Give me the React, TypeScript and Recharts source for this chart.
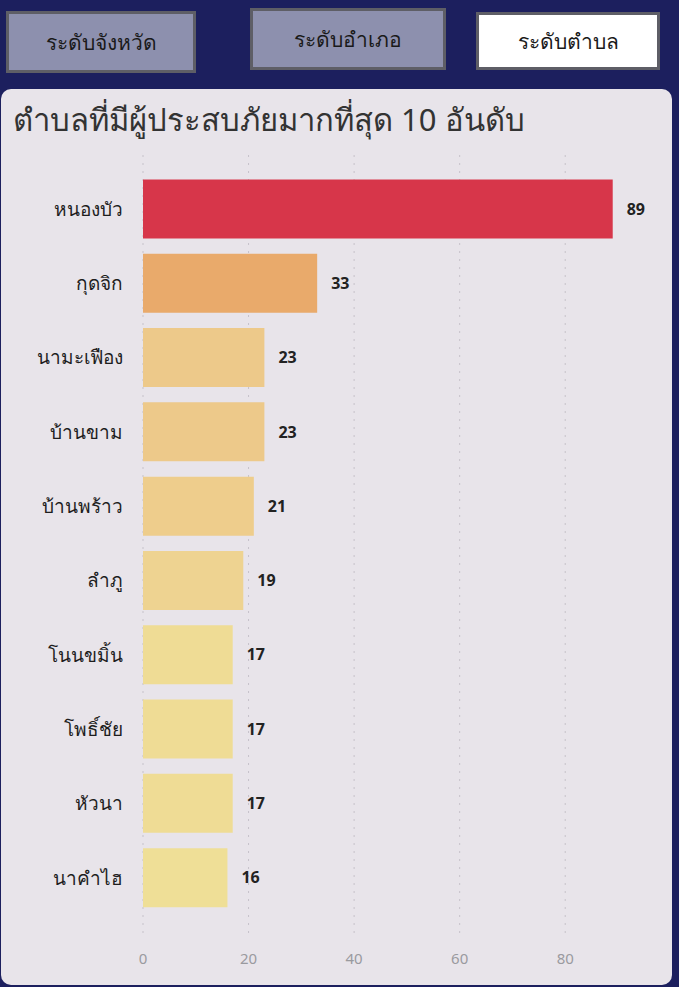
import { Bar, BarChart, CartesianGrid, Cell, LabelList, XAxis, YAxis } from "recharts"

const PAGE_BG = "#1c1f5e"
const CARD_BG = "#e8e4ea"
const GRID_COLOR = "#c6c2ca"
const FONT = "'Noto Sans', Tahoma, sans-serif"

const subdistricts = ["หนองบัว", "กุดจิก", "นามะเฟือง", "บ้านขาม", "บ้านพร้าว", "ลำภู", "โนนขมิ้น", "โพธิ์ชัย", "หัวนา", "นาคำไฮ"]
const affected = [89, 33, 23, 23, 21, 19, 17, 17, 17, 16]
const xTicks = [0, 20, 40, 60, 80]
const levelButtons = ["ระดับจังหวัด", "ระดับอำเภอ", "ระดับตำบล"]

// colour scale from high (red) to low (pale yellow)
const BAR_COLORS = ["#d7364a", "#e9aa6b", "#edc98a", "#edc98a", "#eecd8c", "#eed391", "#efdc95", "#efdc95", "#efdc95", "#efdf97"]

const data = subdistricts.map((name, i) => ({ name, value: affected[i] }))

const buttonBoxes = [
	{ left: 6, top: 11, width: 190, height: 62, active: false },
	{ left: 250, top: 8, width: 196, height: 62, active: false },
	{ left: 476, top: 12, width: 184, height: 58, active: true },
]

export default function App() {
	return (
		<div
			style={{
				position: "fixed",
				left: 0,
				top: 0,
				width: 679,
				height: 987,
				background: PAGE_BG,
				fontFamily: FONT,
				overflow: "hidden",
			}}
		>
			{levelButtons.map((label, i) => {
				const b = buttonBoxes[i]
				return (
					<div
						key={label}
						style={{
							position: "absolute",
							left: b.left,
							top: b.top,
							width: b.width,
							height: b.height,
							boxSizing: "border-box",
							border: "3px solid #5e5e66",
							background: b.active ? "#ffffff" : "#8d90ae",
							color: "#1a1a1a",
							fontSize: 21,
							display: "flex",
							alignItems: "center",
							justifyContent: "center",
						}}
					>
						{label}
					</div>
				)
			})}
			<div
				style={{
					position: "absolute",
					left: 1,
					top: 89,
					width: 671,
					height: 896,
					background: CARD_BG,
					borderRadius: 10,
				}}
			/>
			<div
				style={{
					position: "absolute",
					left: 13,
					top: 95,
					fontSize: 31,
					color: "#333333",
					whiteSpace: "nowrap",
				}}
			>
				ตำบลที่มีผู้ประสบภัยมากที่สุด 10 อันดับ
			</div>
			<div style={{ position: "absolute", left: 0, top: 0 }}>
				<BarChart
					width={679}
					height={987}
					data={data}
					layout="vertical"
					margin={{ top: 155, right: 61, bottom: 22, left: 0 }}
					barCategoryGap="10%"
				>
					<CartesianGrid horizontal={false} stroke={GRID_COLOR} strokeDasharray="2 6" syncWithTicks />
					<XAxis
						type="number"
						domain={[0, 90]}
						ticks={xTicks}
						axisLine={false}
						tickLine={false}
						tickMargin={12}
						tick={{ fontSize: 15, fill: "#9a9a9f", fontFamily: FONT }}
					/>
					<YAxis
						type="category"
						dataKey="name"
						width={143}
						axisLine={false}
						tickLine={false}
						tickMargin={14}
						padding={{ top: 17, bottom: 20 }}
						tick={{ fontSize: 19, fill: "#1e1e1e", fontFamily: FONT }}
					/>
					<Bar dataKey="value" isAnimationActive={false}>
						{data.map((d, i) => (
							<Cell key={d.name} fill={BAR_COLORS[i]} />
						))}
						<LabelList
							dataKey="value"
							position="right"
							offset={14}
							style={{ fontSize: 16, fontWeight: 700, fill: "#222222", fontFamily: FONT }}
						/>
					</Bar>
				</BarChart>
			</div>
		</div>
	)
}
